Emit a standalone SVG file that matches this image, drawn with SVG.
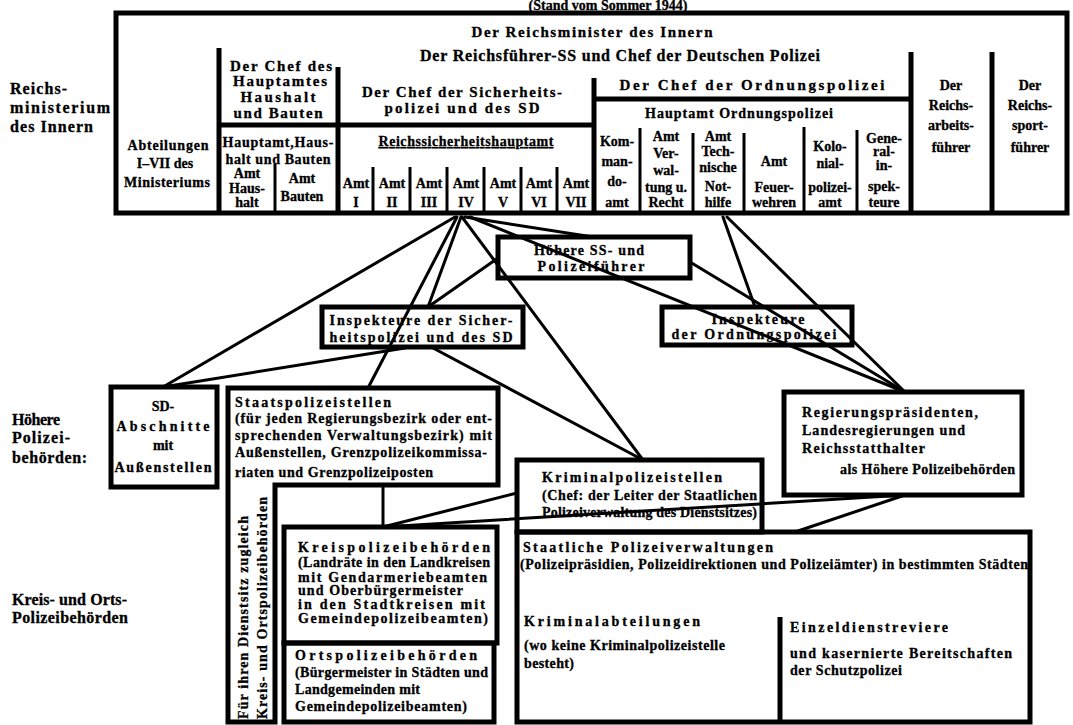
<svg xmlns="http://www.w3.org/2000/svg" width="1073" height="725" viewBox="0 0 1073 725">
<style>
text{font-family:"Liberation Serif","DejaVu Serif",serif;font-weight:bold;fill:#000;font-size:14px;stroke:#000;stroke-width:0.3}
.c{text-anchor:middle}
.h{font-size:15px}
.l{font-size:16px}
.box{fill:none;stroke:#000;stroke-width:5}
.ln{stroke:#000;stroke-width:5;fill:none}
.sl{stroke:#000;stroke-width:3;fill:none}
.cn{stroke:#000;stroke-width:3;fill:none;stroke-linecap:round}
</style>
<rect width="1073" height="725" fill="#fff"/>
<text x="608" y="10" class="c" font-size="9" stroke-width="0">(Stand vom Sommer 1944)</text>

<g id="connectors">
<line class="cn" x1="455" y1="217" x2="163" y2="387"/>
<line class="cn" x1="457" y1="217" x2="368" y2="388"/>
<line class="cn" x1="461" y1="217" x2="428" y2="307"/>
<line class="cn" x1="498" y1="258" x2="428" y2="307"/>
<line class="cn" x1="163" y1="387" x2="405" y2="348"/>
<line class="cn" x1="433" y1="348" x2="643" y2="460"/>
<line class="cn" x1="462" y1="217" x2="643" y2="460"/>
<line class="cn" x1="465" y1="217" x2="593" y2="237"/>
<line class="cn" x1="470" y1="217" x2="905" y2="392"/>
<line class="cn" x1="690" y1="262" x2="905" y2="392"/>
<line class="cn" x1="723" y1="217" x2="755" y2="307"/>
<line class="cn" x1="727" y1="217" x2="905" y2="392"/>
<line class="cn" x1="383" y1="485" x2="383" y2="527"/>
<line class="cn" x1="517" y1="493" x2="383" y2="527"/>
<line class="cn" x1="905" y1="495" x2="383" y2="527"/>
<line class="cn" x1="905" y1="495" x2="795" y2="532"/>
</g>

<g id="labels-left">
<text x="10" y="94" class="l" textLength="57">Reichs-</text>
<text x="10" y="113" class="l" textLength="100">ministerium</text>
<text x="10" y="132" class="l" textLength="83">des Innern</text>
<text x="12" y="425" class="l" textLength="48">Höhere</text>
<text x="12" y="443" class="l" textLength="58">Polizei-</text>
<text x="12" y="463" class="l" textLength="75">behörden:</text>
<text x="12" y="605" class="l" textLength="115">Kreis- und Orts-</text>
<text x="12" y="623" class="l" textLength="116">Polizeibehörden</text>
</g>

<g id="ministerium">
<rect class="box" x="116" y="13" width="951" height="200" stroke-width="6"/>
<line class="ln" x1="219" y1="48" x2="219" y2="213"/>
<line class="ln" x1="338" y1="67" x2="338" y2="213"/>
<line class="ln" x1="594" y1="78" x2="594" y2="213"/>
<line class="ln" x1="911" y1="52" x2="911" y2="213"/>
<line class="ln" x1="992" y1="52" x2="992" y2="213"/>
<line class="ln" x1="219" y1="125" x2="594" y2="125"/>
<line class="ln" x1="594" y1="99" x2="911" y2="99"/>
<text x="592" y="37" class="c h" textLength="241">Der Reichsminister des Innern</text>
<text x="620" y="61" class="c l" textLength="400">Der Reichsführer-SS und Chef der Deutschen Polizei</text>
</g>

<g id="abteilungen">
<text x="168" y="150" class="c" textLength="81">Abteilungen</text>
<text x="165" y="168" class="c">I–VII des</text>
<text x="167" y="187" class="c" textLength="86">Ministeriums</text>
</g>

<g id="hauptamt-haushalt">
<text x="281" y="71" class="c h" textLength="102">Der Chef des</text>
<text x="280" y="86" class="c h" textLength="94">Hauptamtes</text>
<text x="278" y="102" class="c h" textLength="75">Haushalt</text>
<text x="278" y="118" class="c h" textLength="89">und Bauten</text>
<text x="278" y="147" class="c" textLength="111">Hauptamt,Haus-</text>
<text x="278" y="164" class="c" textLength="105">halt und Bauten</text>
<line class="sl" x1="275" y1="164" x2="275" y2="213"/>
<text x="247" y="178" class="c">Amt</text>
<text x="247" y="193" class="c">Haus-</text>
<text x="247" y="207" class="c">halt</text>
<text x="302" y="183" class="c">Amt</text>
<text x="302" y="201" class="c">Bauten</text>
</g>

<g id="sipo">
<text x="462" y="97" class="c h" textLength="200">Der Chef der Sicherheits-</text>
<text x="462" y="113" class="c h" textLength="155">polizei und des SD</text>
<text x="466" y="146" class="c" textLength="175" text-decoration="underline">Reichssicherheitshauptamt</text>
<line class="sl" x1="373" y1="167" x2="373" y2="213"/>
<line class="sl" x1="410" y1="167" x2="410" y2="213"/>
<line class="sl" x1="447" y1="167" x2="447" y2="213"/>
<line class="sl" x1="484" y1="167" x2="484" y2="213"/>
<line class="sl" x1="521" y1="167" x2="521" y2="213"/>
<line class="sl" x1="557" y1="167" x2="557" y2="213"/>
<text x="356" y="188" class="c">Amt</text><text x="356" y="207" class="c">I</text>
<text x="392" y="188" class="c">Amt</text><text x="392" y="207" class="c">II</text>
<text x="429" y="188" class="c">Amt</text><text x="429" y="207" class="c">III</text>
<text x="466" y="188" class="c">Amt</text><text x="466" y="207" class="c">IV</text>
<text x="503" y="188" class="c">Amt</text><text x="503" y="207" class="c">V</text>
<text x="539" y="188" class="c">Amt</text><text x="539" y="207" class="c">VI</text>
<text x="576" y="188" class="c">Amt</text><text x="576" y="207" class="c">VII</text>
</g>

<g id="orpo">
<text x="752" y="90" class="c h" textLength="265">Der Chef der Ordnungspolizei</text>
<text x="739" y="118" class="c" textLength="188">Hauptamt Ordnungspolizei</text>
<line class="sl" x1="640" y1="128" x2="640" y2="213"/>
<line class="sl" x1="693" y1="133" x2="693" y2="213"/>
<line class="sl" x1="744" y1="133" x2="744" y2="213"/>
<line class="sl" x1="804" y1="127" x2="804" y2="213"/>
<line class="sl" x1="857" y1="130" x2="857" y2="213"/>
<text x="617" y="146" class="c">Kom-</text>
<text x="617" y="166" class="c">man-</text>
<text x="617" y="186" class="c">do-</text>
<text x="617" y="207" class="c">amt</text>
<text x="666" y="141" class="c">Amt</text>
<text x="666" y="158" class="c">Ver-</text>
<text x="666" y="175" class="c">wal-</text>
<text x="666" y="192" class="c">tung u.</text>
<text x="666" y="207" class="c">Recht</text>
<text x="718" y="141" class="c">Amt</text>
<text x="718" y="156" class="c">Tech-</text>
<text x="718" y="172" class="c">nische</text>
<text x="718" y="191" class="c">Not-</text>
<text x="718" y="207" class="c">hilfe</text>
<text x="774" y="166" class="c">Amt</text>
<text x="774" y="192" class="c">Feuer-</text>
<text x="774" y="207" class="c">wehren</text>
<text x="830" y="151" class="c">Kolo-</text>
<text x="830" y="168" class="c">nial-</text>
<text x="830" y="192" class="c">polizei-</text>
<text x="830" y="207" class="c">amt</text>
<text x="884" y="143" class="c">Gene-</text>
<text x="884" y="156" class="c">ral-</text>
<text x="884" y="170" class="c">in-</text>
<text x="884" y="191" class="c">spek-</text>
<text x="884" y="207" class="c">teure</text>
</g>

<g id="reichsarbeitsfuehrer">
<text x="951" y="90" class="c">Der</text>
<text x="951" y="110" class="c">Reichs-</text>
<text x="951" y="130" class="c">arbeits-</text>
<text x="951" y="152" class="c">führer</text>
</g>
<g id="reichssportfuehrer">
<text x="1030" y="90" class="c">Der</text>
<text x="1030" y="110" class="c">Reichs-</text>
<text x="1030" y="130" class="c">sport-</text>
<text x="1030" y="152" class="c">führer</text>
</g>

<g id="hoehere-ss">
<rect class="box" x="498" y="237" width="192" height="41"/>
<text x="589" y="255" class="c" textLength="110">Höhere SS- und</text>
<text x="591" y="271" class="c" textLength="107">Polizeiführer</text>
</g>

<g id="insp-sipo">
<rect class="box" x="322" y="307" width="201" height="40"/>
<text x="421" y="325" class="c" textLength="183">Inspekteure der Sicher-</text>
<text x="421" y="342" class="c" textLength="183">heitspolizei und des SD</text>
</g>

<g id="insp-orpo">
<rect class="box" x="662" y="307" width="190" height="38"/>
<text x="758" y="324" class="c" textLength="93">Inspekteure</text>
<text x="754" y="339" class="c" textLength="165">der Ordnungspolizei</text>
</g>

<g id="sd-abschnitte">
<rect class="box" x="111" y="387" width="106" height="100" stroke-width="6"/>
<text x="163" y="411" class="c">SD-</text>
<text x="163" y="431" class="c" textLength="93">Abschnitte</text>
<text x="163" y="450" class="c">mit</text>
<text x="163" y="472" class="c" textLength="97">Außenstellen</text>
</g>

<g id="staatspolizeistellen">
<path class="box" d="M275 722 H228 V388 H498 V485 H275 Z"/>
<text x="235" y="407" textLength="156">Staatspolizeistellen</text>
<text x="235" y="423" textLength="257">(für jeden Regierungsbezirk oder ent-</text>
<text x="235" y="440" textLength="257">sprechenden Verwaltungsbezirk) mit</text>
<text x="235" y="457" textLength="252">Außenstellen, Grenzpolizeikommissa-</text>
<text x="235" y="477" textLength="198">riaten und Grenzpolizeiposten</text>
<text transform="translate(248,719) rotate(-90)" x="0" y="0" textLength="203">Für ihren Dienstsitz zugleich</text>
<text transform="translate(267,719) rotate(-90)" x="0" y="0" textLength="222">Kreis- und Ortspolizeibehörden</text>
</g>

<g id="kreispolizeibehoerden">
<rect class="box" x="284" y="527" width="213" height="116"/>
<text x="298" y="552" textLength="192">Kreispolizeibehörden</text>
<text x="298" y="567" textLength="192">(Landräte in den Landkreisen</text>
<text x="298" y="582" textLength="189">mit Gendarmeriebeamten</text>
<text x="298" y="595" textLength="165">und Oberbürgermeister</text>
<text x="298" y="609" textLength="187">in den Stadtkreisen mit</text>
<text x="298" y="623" textLength="190">Gemeindepolizeibeamten)</text>
</g>

<g id="ortspolizeibehoerden">
<rect class="box" x="284" y="643" width="210" height="79"/>
<text x="295" y="660" textLength="182">Ortspolizeibehörden</text>
<text x="295" y="677" textLength="193">(Bürgermeister in Städten und</text>
<text x="295" y="694" textLength="125">Landgemeinden mit</text>
<text x="295" y="711" textLength="172">Gemeindepolizeibeamten)</text>
</g>

<g id="kriminalpolizeistellen">
<rect class="box" x="517" y="460" width="245" height="72"/>
<text x="542" y="482" textLength="180">Kriminalpolizeistellen</text>
<text x="542" y="500" textLength="215">(Chef: der Leiter der Staatlichen</text>
<text x="542" y="517" textLength="215">Polizeiverwaltung des Dienstsitzes)</text>
</g>

<g id="regierungspraesidenten">
<rect class="box" x="784" y="392" width="238" height="103" stroke-width="6"/>
<text x="802" y="417" textLength="176">Regierungspräsidenten,</text>
<text x="802" y="435" textLength="163">Landesregierungen und</text>
<text x="802" y="453" textLength="123">Reichsstatthalter</text>
<text x="840" y="474" textLength="175">als Höhere Polizeibehörden</text>
</g>

<g id="staatliche-polizeiverwaltungen">
<rect class="box" x="517" y="532" width="513" height="190"/>
<text x="523" y="552" textLength="250">Staatliche Polizeiverwaltungen</text>
<text x="520" y="569" textLength="508">(Polizeipräsidien, Polizeidirektionen und Polizeiämter) in bestimmten Städten</text>
<text x="524" y="626" textLength="176">Kriminalabteilungen</text>
<text x="524" y="650" textLength="201">(wo keine Kriminalpolizeistelle</text>
<text x="524" y="668" textLength="50">besteht)</text>
<line class="ln" x1="780" y1="617" x2="780" y2="722"/>
<text x="790" y="632" textLength="158">Einzeldienstreviere</text>
<text x="790" y="658" textLength="222">und kasernierte Bereitschaften</text>
<text x="790" y="675" textLength="112">der Schutzpolizei</text>
</g>
</svg>
